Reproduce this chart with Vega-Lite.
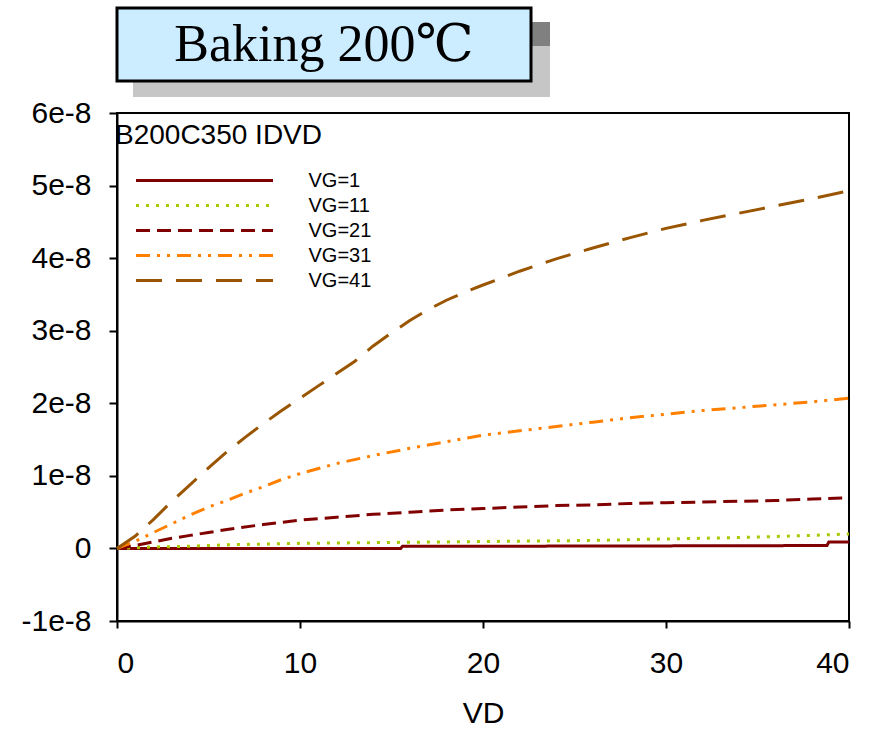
{
  "$schema": "https://vega.github.io/schema/vega-lite/v6.json",
  "background": "white",
  "padding": {"left": 19, "top": 6, "right": 5, "bottom": 5},
  "autosize": {"type": "pad"},
  "bounds": "flush",
  "spacing": 32,
  "config": {"view": {"stroke": null}, "font": "Liberation Sans"},
  "vconcat": [
    {
      "width": 414,
      "height": 73,
      "data": {"values": [{"title": "Baking 200℃"}]},
      "layer": [
        {"mark": {"type": "rect", "color": "#c6c6c6", "xOffset": 16, "x2Offset": 19, "yOffset": 16, "y2Offset": 14},
         "encoding": {
           "x": {"datum": 0, "type": "quantitative", "scale": {"domain": [0, 1]}, "axis": null},
           "x2": {"datum": 1},
           "y": {"datum": 0, "type": "quantitative", "scale": {"domain": [0, 1]}, "axis": null},
           "y2": {"datum": 1}
         }},
        {"mark": {"type": "rect", "color": "#808080", "xOffset": 16, "x2Offset": 19, "yOffset": 14, "y2Offset": 38},
         "encoding": {
           "x": {"datum": 0, "type": "quantitative"},
           "x2": {"datum": 1},
           "y": {"datum": 1, "type": "quantitative"},
           "y2": {"datum": 1}
         }},
        {"mark": {"type": "rect", "fill": "#CCECFF", "stroke": "black", "strokeWidth": 3},
         "encoding": {
           "x": {"datum": 0, "type": "quantitative"},
           "x2": {"datum": 1},
           "y": {"datum": 0, "type": "quantitative"},
           "y2": {"datum": 1}
         }},
        {"mark": {"type": "text", "font": "Liberation Serif, DejaVu Serif, Noto Sans CJK SC", "fontSize": 52, "color": "black", "baseline": "middle", "align": "center"},
         "encoding": {"text": {"field": "title"}}}
      ]
    },
    {
      "width": 732,
      "height": 508,
      "view": {"stroke": "black", "strokeWidth": 2},
      "data": {"values": [
        {"VD": 0, "ID": 0, "VG": "VG=1"},
        {"VD": 5, "ID": 0, "VG": "VG=1"},
        {"VD": 10, "ID": 0, "VG": "VG=1"},
        {"VD": 15.5, "ID": 0, "VG": "VG=1"},
        {"VD": 15.6, "ID": 0.03e-8, "VG": "VG=1"},
        {"VD": 20, "ID": 0.03e-8, "VG": "VG=1"},
        {"VD": 30, "ID": 0.035e-8, "VG": "VG=1"},
        {"VD": 38.8, "ID": 0.04e-8, "VG": "VG=1"},
        {"VD": 38.9, "ID": 0.09e-8, "VG": "VG=1"},
        {"VD": 40, "ID": 0.09e-8, "VG": "VG=1"},

        {"VD": 0, "ID": 0, "VG": "VG=11"},
        {"VD": 2, "ID": 0.02e-8, "VG": "VG=11"},
        {"VD": 4, "ID": 0.03e-8, "VG": "VG=11"},
        {"VD": 6, "ID": 0.05e-8, "VG": "VG=11"},
        {"VD": 8, "ID": 0.06e-8, "VG": "VG=11"},
        {"VD": 10, "ID": 0.07e-8, "VG": "VG=11"},
        {"VD": 14, "ID": 0.08e-8, "VG": "VG=11"},
        {"VD": 18, "ID": 0.09e-8, "VG": "VG=11"},
        {"VD": 22, "ID": 0.1e-8, "VG": "VG=11"},
        {"VD": 26, "ID": 0.11e-8, "VG": "VG=11"},
        {"VD": 30, "ID": 0.13e-8, "VG": "VG=11"},
        {"VD": 34, "ID": 0.15e-8, "VG": "VG=11"},
        {"VD": 38, "ID": 0.18e-8, "VG": "VG=11"},
        {"VD": 40, "ID": 0.2e-8, "VG": "VG=11"},

        {"VD": 0, "ID": 0, "VG": "VG=21"},
        {"VD": 1, "ID": 0.04e-8, "VG": "VG=21"},
        {"VD": 2, "ID": 0.09e-8, "VG": "VG=21"},
        {"VD": 3, "ID": 0.14e-8, "VG": "VG=21"},
        {"VD": 4, "ID": 0.18e-8, "VG": "VG=21"},
        {"VD": 5, "ID": 0.22e-8, "VG": "VG=21"},
        {"VD": 6, "ID": 0.26e-8, "VG": "VG=21"},
        {"VD": 8, "ID": 0.33e-8, "VG": "VG=21"},
        {"VD": 10, "ID": 0.39e-8, "VG": "VG=21"},
        {"VD": 12, "ID": 0.43e-8, "VG": "VG=21"},
        {"VD": 14, "ID": 0.47e-8, "VG": "VG=21"},
        {"VD": 16, "ID": 0.5e-8, "VG": "VG=21"},
        {"VD": 18, "ID": 0.53e-8, "VG": "VG=21"},
        {"VD": 20, "ID": 0.55e-8, "VG": "VG=21"},
        {"VD": 22, "ID": 0.57e-8, "VG": "VG=21"},
        {"VD": 24, "ID": 0.59e-8, "VG": "VG=21"},
        {"VD": 26, "ID": 0.6e-8, "VG": "VG=21"},
        {"VD": 28, "ID": 0.62e-8, "VG": "VG=21"},
        {"VD": 30, "ID": 0.63e-8, "VG": "VG=21"},
        {"VD": 32, "ID": 0.64e-8, "VG": "VG=21"},
        {"VD": 34, "ID": 0.65e-8, "VG": "VG=21"},
        {"VD": 36, "ID": 0.66e-8, "VG": "VG=21"},
        {"VD": 38, "ID": 0.68e-8, "VG": "VG=21"},
        {"VD": 40, "ID": 0.7e-8, "VG": "VG=21"},

        {"VD": 0, "ID": 0, "VG": "VG=31"},
        {"VD": 1, "ID": 0.1e-8, "VG": "VG=31"},
        {"VD": 2, "ID": 0.22e-8, "VG": "VG=31"},
        {"VD": 3, "ID": 0.34e-8, "VG": "VG=31"},
        {"VD": 4, "ID": 0.46e-8, "VG": "VG=31"},
        {"VD": 5, "ID": 0.57e-8, "VG": "VG=31"},
        {"VD": 6, "ID": 0.66e-8, "VG": "VG=31"},
        {"VD": 7, "ID": 0.76e-8, "VG": "VG=31"},
        {"VD": 8, "ID": 0.85e-8, "VG": "VG=31"},
        {"VD": 9, "ID": 0.95e-8, "VG": "VG=31"},
        {"VD": 10, "ID": 1.03e-8, "VG": "VG=31"},
        {"VD": 12, "ID": 1.17e-8, "VG": "VG=31"},
        {"VD": 14, "ID": 1.28e-8, "VG": "VG=31"},
        {"VD": 16, "ID": 1.38e-8, "VG": "VG=31"},
        {"VD": 18, "ID": 1.47e-8, "VG": "VG=31"},
        {"VD": 20, "ID": 1.56e-8, "VG": "VG=31"},
        {"VD": 22, "ID": 1.62e-8, "VG": "VG=31"},
        {"VD": 24, "ID": 1.68e-8, "VG": "VG=31"},
        {"VD": 26, "ID": 1.74e-8, "VG": "VG=31"},
        {"VD": 28, "ID": 1.8e-8, "VG": "VG=31"},
        {"VD": 30, "ID": 1.85e-8, "VG": "VG=31"},
        {"VD": 32, "ID": 1.9e-8, "VG": "VG=31"},
        {"VD": 34, "ID": 1.94e-8, "VG": "VG=31"},
        {"VD": 36, "ID": 1.98e-8, "VG": "VG=31"},
        {"VD": 38, "ID": 2.02e-8, "VG": "VG=31"},
        {"VD": 40, "ID": 2.07e-8, "VG": "VG=31"},

        {"VD": 0, "ID": 0, "VG": "VG=41"},
        {"VD": 1, "ID": 0.17e-8, "VG": "VG=41"},
        {"VD": 2, "ID": 0.4e-8, "VG": "VG=41"},
        {"VD": 3, "ID": 0.65e-8, "VG": "VG=41"},
        {"VD": 4, "ID": 0.88e-8, "VG": "VG=41"},
        {"VD": 5, "ID": 1.11e-8, "VG": "VG=41"},
        {"VD": 6, "ID": 1.33e-8, "VG": "VG=41"},
        {"VD": 7, "ID": 1.53e-8, "VG": "VG=41"},
        {"VD": 8, "ID": 1.72e-8, "VG": "VG=41"},
        {"VD": 9, "ID": 1.9e-8, "VG": "VG=41"},
        {"VD": 10, "ID": 2.07e-8, "VG": "VG=41"},
        {"VD": 11, "ID": 2.24e-8, "VG": "VG=41"},
        {"VD": 12, "ID": 2.41e-8, "VG": "VG=41"},
        {"VD": 13, "ID": 2.58e-8, "VG": "VG=41"},
        {"VD": 14, "ID": 2.79e-8, "VG": "VG=41"},
        {"VD": 15, "ID": 2.97e-8, "VG": "VG=41"},
        {"VD": 16, "ID": 3.14e-8, "VG": "VG=41"},
        {"VD": 17, "ID": 3.29e-8, "VG": "VG=41"},
        {"VD": 18, "ID": 3.42e-8, "VG": "VG=41"},
        {"VD": 19, "ID": 3.53e-8, "VG": "VG=41"},
        {"VD": 20, "ID": 3.63e-8, "VG": "VG=41"},
        {"VD": 22, "ID": 3.82e-8, "VG": "VG=41"},
        {"VD": 24, "ID": 3.99e-8, "VG": "VG=41"},
        {"VD": 26, "ID": 4.14e-8, "VG": "VG=41"},
        {"VD": 28, "ID": 4.28e-8, "VG": "VG=41"},
        {"VD": 30, "ID": 4.41e-8, "VG": "VG=41"},
        {"VD": 32, "ID": 4.52e-8, "VG": "VG=41"},
        {"VD": 34, "ID": 4.62e-8, "VG": "VG=41"},
        {"VD": 36, "ID": 4.72e-8, "VG": "VG=41"},
        {"VD": 38, "ID": 4.82e-8, "VG": "VG=41"},
        {"VD": 40, "ID": 4.93e-8, "VG": "VG=41"}
      ]},
      "mark": {"type": "line", "strokeWidth": 3},
      "encoding": {
        "x": {
          "field": "VD", "type": "quantitative",
          "scale": {"domain": [0, 40], "nice": false},
          "axis": {
            "values": [0, 10, 20, 30, 40], "title": "VD", "grid": false,
            "domainColor": "black", "domainWidth": 2, "tickColor": "black", "tickWidth": 2, "tickSize": 7,
            "labelFontSize": 30, "labelColor": "black", "labelPadding": 20, "labelFont": "Liberation Sans",
            "titleFontSize": 30, "titleFontWeight": "normal", "titleColor": "black", "titlePadding": 20, "titleFont": "Liberation Sans"
          }
        },
        "y": {
          "field": "ID", "type": "quantitative",
          "scale": {"domain": [-1e-8, 6e-8], "nice": false, "zero": false},
          "axis": {
            "values": [-1e-8, 0, 1e-8, 2e-8, 3e-8, 4e-8, 5e-8, 6e-8], "title": null, "grid": false,
            "labelExpr": "datum.value == 0 ? '0' : replace(format(datum.value, '.0e'), '\u2212', '-')",
            "domainColor": "black", "domainWidth": 2, "tickColor": "black", "tickWidth": 2, "tickSize": 8,
            "labelFontSize": 30, "labelColor": "black", "labelPadding": 18, "labelFont": "Liberation Sans"
          }
        },
        "color": {
          "field": "VG", "type": "nominal",
          "scale": {"domain": ["VG=1", "VG=11", "VG=21", "VG=31", "VG=41"], "range": ["#800000", "#A8C800", "#800000", "#FF8000", "#9A5500"]},
          "legend": {
            "title": "B200C350 IDVD", "orient": "none", "legendX": -2, "legendY": 114,
            "symbolType": "stroke", "symbolSize": 18769, "symbolStrokeWidth": 3, "symbolOffset": 19.5,
            "labelOffset": 34, "clipHeight": 23, "rowPadding": 2, "titlePadding": 19, "padding": 0,
            "titleFontSize": 28, "titleFontWeight": "normal", "titleColor": "black", "titleFont": "Liberation Sans", "titleLimit": 500,
            "labelFontSize": 20, "labelColor": "black", "labelFont": "Liberation Sans", "labelLimit": 300
          }
        },
        "strokeDash": {
          "field": "VG", "type": "nominal",
          "scale": {"domain": ["VG=1", "VG=11", "VG=21", "VG=31", "VG=41"], "range": [[1, 0], [3, 7], [14, 7], [14, 7, 3, 7, 3, 7], [26, 14]]}
        }
      }
    }
  ]
}
